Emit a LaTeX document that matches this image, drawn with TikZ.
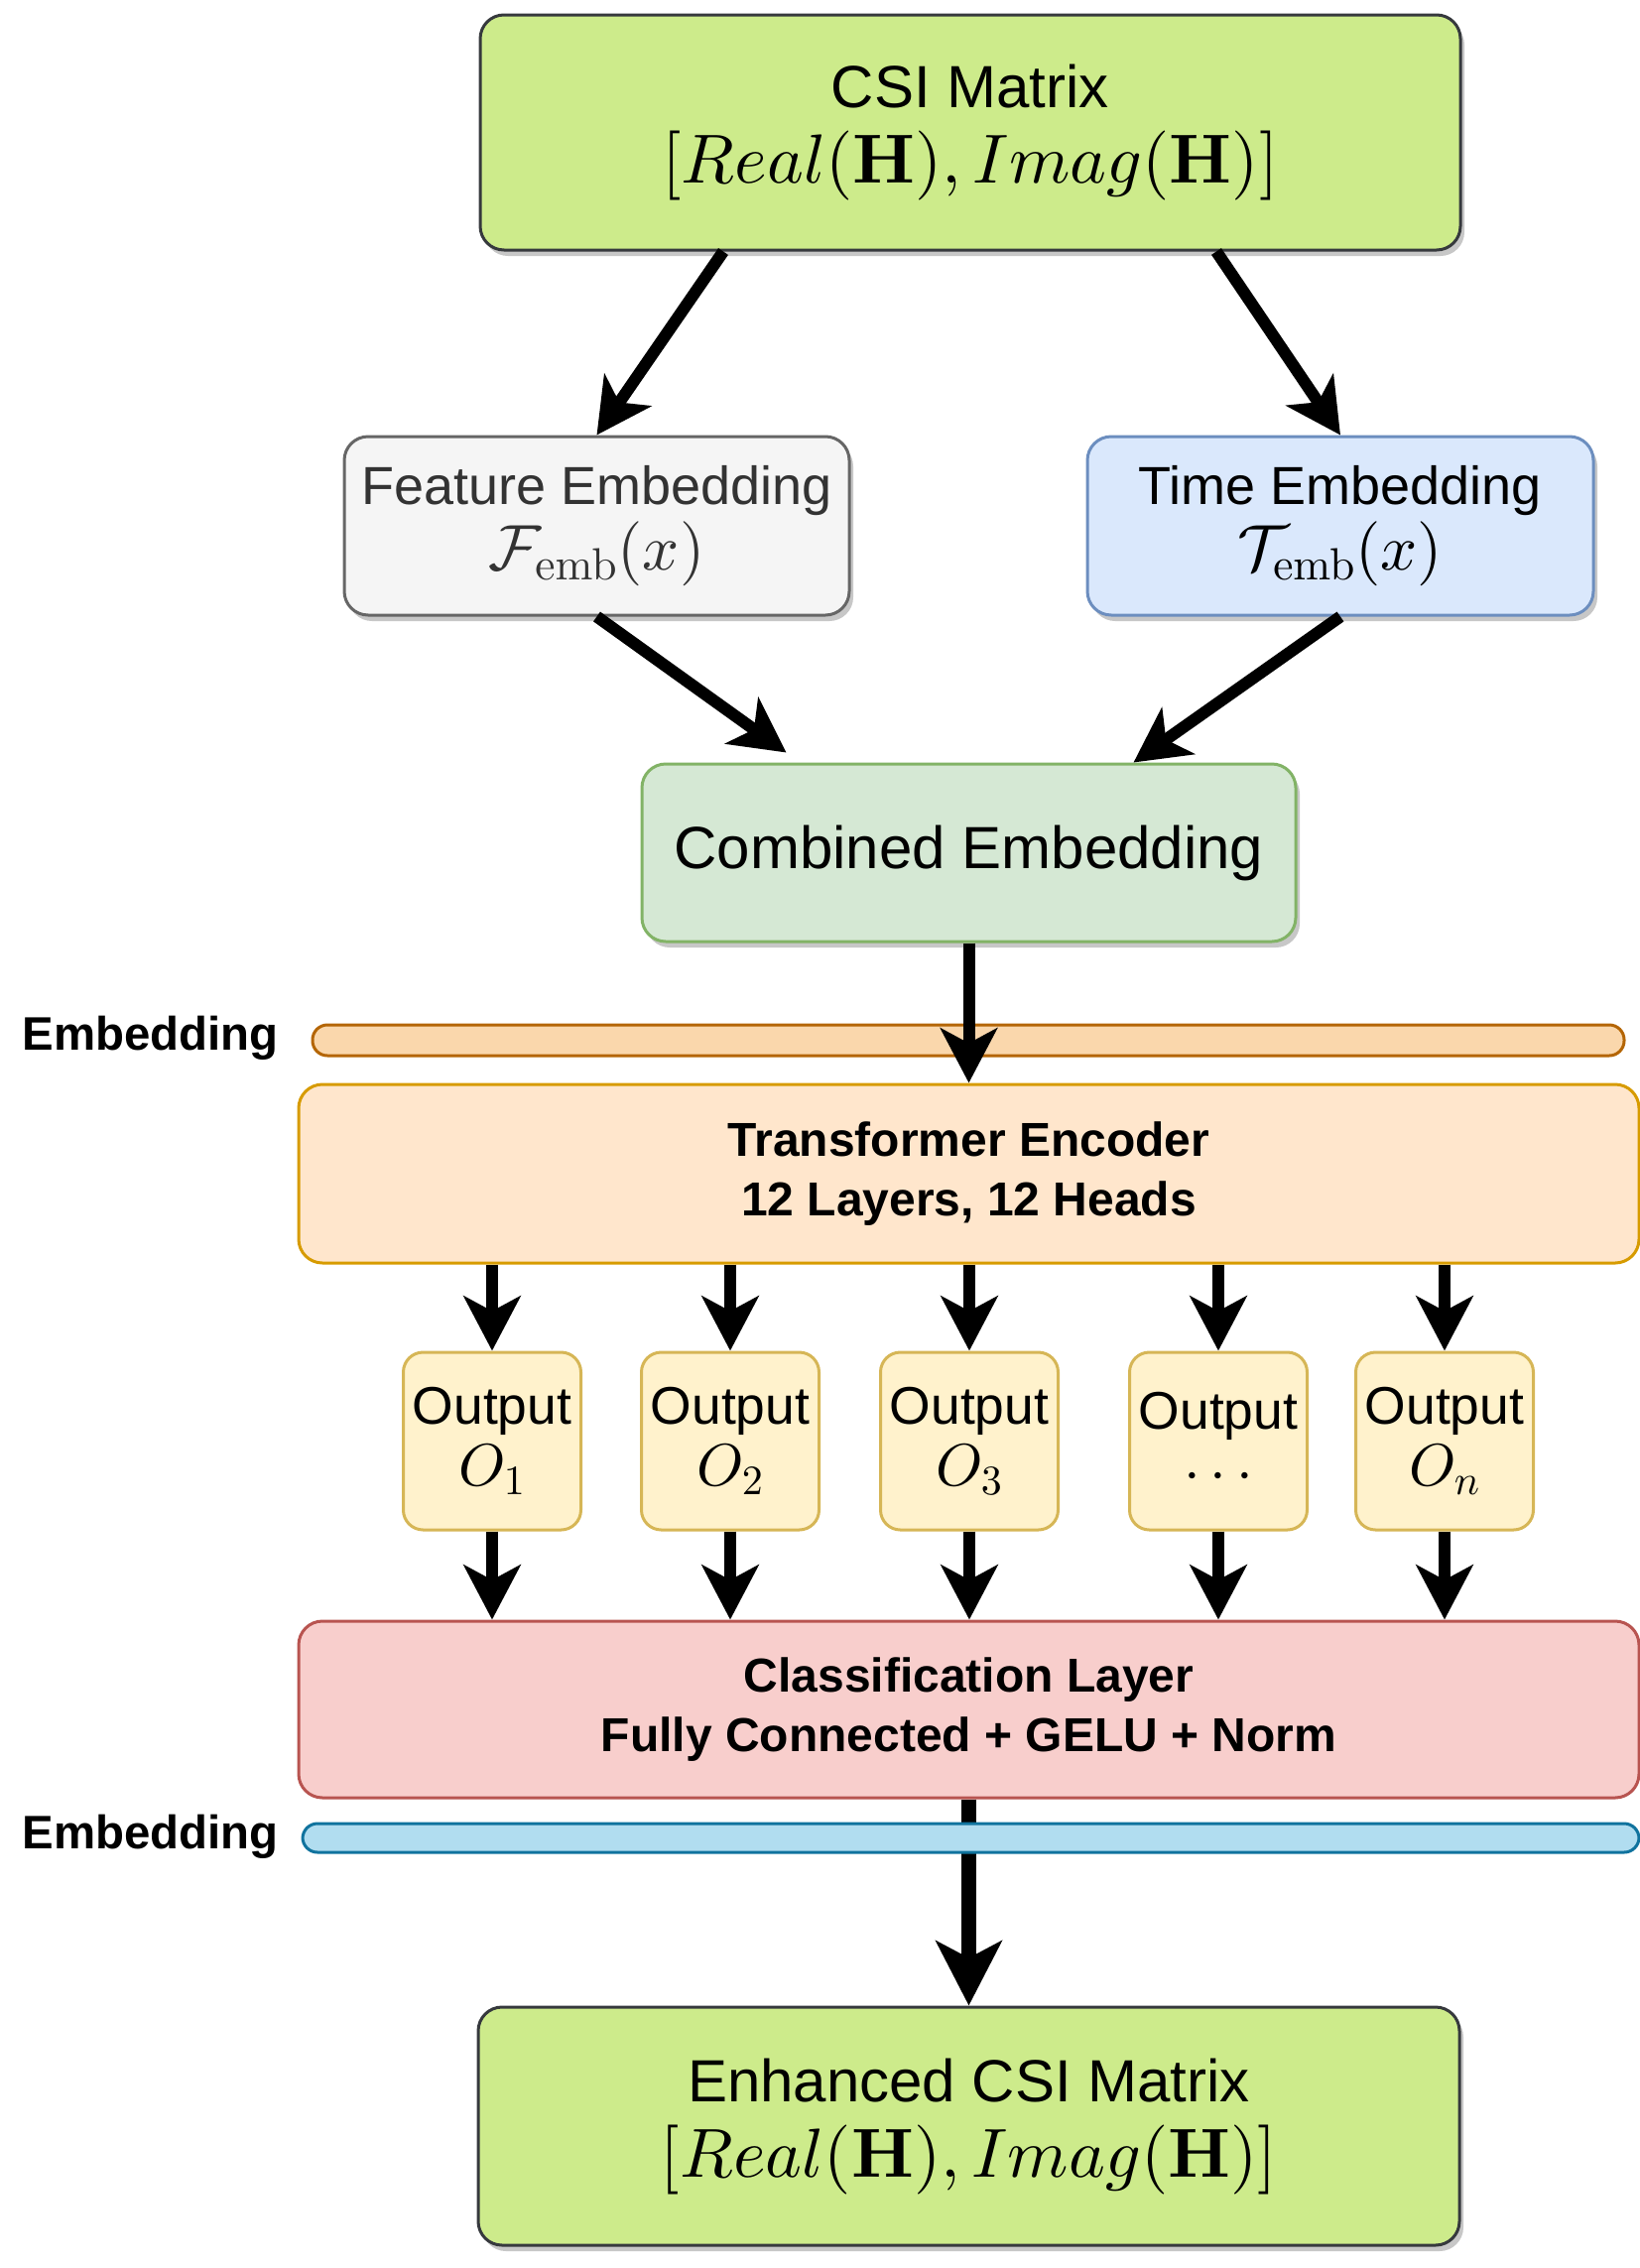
\documentclass[tikz,border=0pt]{standalone}
\usepackage[no-math]{fontspec}
\setmainfont{Liberation Sans}
\DeclareFontShape{OT1}{cmr}{m}{n}{<->cmr10}{}
\DeclareFontShape{OT1}{cmr}{bx}{n}{<->cmbx10}{}
\DeclareFontShape{OML}{cmm}{m}{it}{<->cmmi10}{}
\DeclareFontShape{OMS}{cmsy}{m}{n}{<->cmsy10}{}
\DeclareFontShape{OMX}{cmex}{m}{n}{<->cmex10}{}
\usetikzlibrary{arrows.meta,shadows}
\definecolor{csiFill}{HTML}{CDEB8B}
\definecolor{csiLine}{HTML}{36393D}
\definecolor{featFill}{HTML}{F5F5F5}
\definecolor{featLine}{HTML}{666666}
\definecolor{featText}{HTML}{333333}
\definecolor{timeFill}{HTML}{DAE8FC}
\definecolor{timeLine}{HTML}{6C8EBF}
\definecolor{combFill}{HTML}{D5E8D4}
\definecolor{combLine}{HTML}{82B366}
\definecolor{barAFill}{HTML}{FAD7AC}
\definecolor{barALine}{HTML}{B46504}
\definecolor{encFill}{HTML}{FFE6CC}
\definecolor{encLine}{HTML}{D79B00}
\definecolor{outFill}{HTML}{FFF2CC}
\definecolor{outLine}{HTML}{D6B656}
\definecolor{clsFill}{HTML}{F8CECC}
\definecolor{clsLine}{HTML}{B85450}
\definecolor{barBFill}{HTML}{B1DDF0}
\definecolor{barBLine}{HTML}{10739E}
\tikzset{
  box/.style={rectangle, rounded corners=12pt, line width=1.5pt, align=center, inner sep=0pt},
  shad/.style={drop shadow={shadow xshift=2pt, shadow yshift=-3pt, opacity=0.22, fill=black}},
  arr/.style={line width=6pt, -{Stealth[length=27.5pt,width=28.5pt,inset=7.5pt]}},
  bigarr/.style={line width=7.3pt, -{Stealth[length=32.5pt,width=33pt,inset=8.5pt]}},
  bar/.style={rectangle, rounded corners=7.5pt, line width=1.5pt, inner sep=0pt},
  lbl/.style={font=\bfseries\fontsize{23.7}{28}\selectfont, anchor=east, inner sep=0pt},
  bigtxt/.style={font=\fontsize{30}{36}\selectfont},
  midtxt/.style={font=\fontsize{27}{33}\selectfont},
  boldtxt/.style={font=\bfseries\fontsize{24}{29}\selectfont},
  outbox/.style={box, rounded corners=10pt, fill=outFill, draw=outLine,
    minimum width=89.5pt, minimum height=89.5pt, font=\fontsize{26.7}{32}\selectfont}
}
\begin{document}
\begin{tikzpicture}[x=0.5pt, y=-0.5pt]
\useasboundingbox (0,0) rectangle (1653,2286);

% top boxes
\node[box, shad, fill=csiFill, draw=csiLine, minimum width=494pt, minimum height=118.5pt, bigtxt]
  (csi) at (978,133.5) {CSI Matrix\\[2pt]{\fontsize{35}{40}\selectfont $[Real(\mathbf{H}),Imag(\mathbf{H})]$}};
\node[box, shad, fill=featFill, draw=featLine, text=featText, minimum width=254.5pt, minimum height=90pt, midtxt]
  (feat) at (601.5,530) {Feature Embedding\\[0pt]{\fontsize{32.5}{36}\selectfont $\mathcal{F}_{\mathrm{emb}}(x)$}};
\node[box, shad, fill=timeFill, draw=timeLine, minimum width=255pt, minimum height=90pt, midtxt]
  (time) at (1351,530) {Time Embedding\\[0pt]{\fontsize{32.5}{36}\selectfont $\mathcal{T}_{\mathrm{emb}}(x)$}};
\node[box, shad, fill=combFill, draw=combLine, minimum width=329.5pt, minimum height=89.5pt, bigtxt]
  (comb) at (976.5,859.5) {Combined Embedding};

% embedding bar 1
\node[bar, fill=barAFill, draw=barALine, minimum width=661pt, minimum height=15.5pt]
  (barA) at (976,1048.5) {};
\node[lbl] (labA) at (281,1046) {Embedding};

% transformer encoder
\node[box, fill=encFill, draw=encLine, minimum width=675.5pt, minimum height=90pt, boldtxt]
  (enc) at (976.5,1183) {Transformer Encoder\\[1pt]12 Layers, 12 Heads};

% outputs
\node[outbox] (o1) at (496,1452.5) {Output\\[-1pt]{\fontsize{30}{34}\selectfont $O_1$}};
\node[outbox] (o2) at (736,1452.5) {Output\\[-1pt]{\fontsize{30}{34}\selectfont $O_2$}};
\node[outbox] (o3) at (977,1452.5) {Output\\[-1pt]{\fontsize{30}{34}\selectfont $O_3$}};
\node[outbox] (o4) at (1228,1452.5) {Output\\[-1pt]{\fontsize{30}{34}\selectfont $\cdots$}};
\node[outbox] (o5) at (1456,1452.5) {Output\\[-1pt]{\fontsize{30}{34}\selectfont $O_n$}};

% classification
\node[box, fill=clsFill, draw=clsLine, minimum width=675.5pt, minimum height=89pt, boldtxt]
  (cls) at (976.5,1723) {Classification Layer\\[1pt]Fully Connected + GELU + Norm};

% enhanced
\node[box, shad, fill=csiFill, draw=csiLine, minimum width=494.5pt, minimum height=120pt, bigtxt]
  (enh) at (976.5,2143) {Enhanced CSI Matrix\\[2pt]{\fontsize{35}{40}\selectfont $[Real(\mathbf{H}),Imag(\mathbf{H})]$}};

% arrows
\draw[arr] ([xshift=-124.5pt]csi.south) -- (feat.north);
\draw[arr] ([xshift=124pt]csi.south) -- (time.north);
\draw[arr] (feat.south) -- ([xshift=-92pt,yshift=5pt]comb.north);
\draw[arr] (time.south) -- ([xshift=83pt]comb.north);
\draw[arr] (comb.south) -- (enc.north);
\foreach \i in {1,...,5} {
  \draw[arr] (enc.south -| o\i.north) -- (o\i.north);
  \draw[arr] (o\i.south) -- (cls.north -| o\i.south);
}
\draw[bigarr] (cls.south) -- (enh.north);

% embedding bar 2 (over the arrow)
\node[bar, fill=barBFill, draw=barBLine, minimum width=673.5pt, minimum height=14.5pt]
  (barB) at (978.5,1852.5) {};
\node[lbl] (labB) at (281,1851) {Embedding};
\end{tikzpicture}
\end{document}
